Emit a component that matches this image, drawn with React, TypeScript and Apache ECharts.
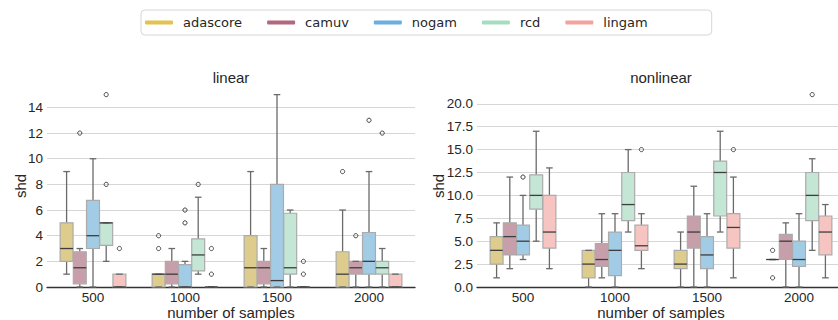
import React, { useEffect, useRef } from "react";
import * as echarts from "echarts";

const categories = ["500", "1000", "1500", "2000"];
const methods = ["adascore", "camuv", "nogam", "rcd", "lingam"];
const legendColors = ["#E3C24F", "#B0697F", "#6BAEE0", "#A3DEC0", "#F4A29C"];
const boxFills = ["#DDCC8C", "#C79FAA", "#A2CBE6", "#C4E6D5", "#F6C5C2"];

// stats per category: [min whisker, q1, median, q3, max whisker]
const adascoreLinear = [[1, 2, 3, 5, 9], [0, 0, 1, 1, 1], [0, 0, 1.5, 4, 9], [0, 0, 1, 2.75, 6]];
const camuvLinear = [[0, 0.25, 1.5, 2.75, 3], [0, 0.25, 1, 2, 3], [0, 0.25, 1.5, 2, 3], [0, 1, 1.5, 2, 2]];
const nogamLinear = [[0, 3, 4, 6.75, 10], [0, 0, 0, 1.75, 2], [0, 0, 0.5, 8, 15], [0, 1, 2, 4.25, 9]];
const rcdLinear = [[2, 3.25, 5, 5, 5], [1, 1.25, 2.5, 3.75, 7], [0, 1, 1.5, 5.75, 6], [0, 1, 1.5, 2, 3]];
const lingamLinear = [[0, 0, 0, 1, 1], [0, 0, 0, 0, 0], [0, 0, 0, 0, 0], [0, 0, 0, 1, 1]];

const adascoreNonlinear = [[1, 2.5, 4, 5.5, 7], [0, 1, 2.5, 4, 4], [0, 2, 2.5, 4, 6], [3, 3, 3, 3, 3]];
const camuvNonlinear = [[2, 3.5, 5.5, 7, 12], [1, 2.25, 3, 4.75, 8], [0, 4.25, 6, 7.75, 11], [0, 3, 5, 5.75, 7]];
const nogamNonlinear = [[3, 3.5, 5, 6.75, 10], [0, 1.25, 4, 6, 8], [0, 2, 3.5, 5.5, 8], [0, 2.25, 3, 5, 8]];
const rcdNonlinear = [[5, 8.5, 10, 12.25, 17], [6, 7.25, 9, 12.5, 15], [6, 7.75, 12.5, 13.75, 17], [4, 7.25, 10, 12.5, 14]];
const lingamNonlinear = [[2, 4.25, 6, 10, 13], [2, 4, 4.5, 6.75, 8], [1, 4.25, 6.5, 8, 12], [1, 3.5, 6, 7.75, 9]];

// outliers: [category index, value]
const adascoreLinearOut = [[1, 3], [1, 4], [3, 9]];
const camuvLinearOut = [[0, 12], [3, 4]];
const nogamLinearOut = [[1, 5], [1, 6], [3, 13]];
const rcdLinearOut = [[0, 8], [0, 15], [1, 8], [3, 12]];
const lingamLinearOut = [[0, 3], [1, 1], [1, 3], [2, 1], [2, 2]];

const adascoreNonlinearOut = [[3, 4], [3, 1]];
const camuvNonlinearOut: number[][] = [];
const nogamNonlinearOut = [[0, 12]];
const rcdNonlinearOut = [[3, 21]];
const lingamNonlinearOut = [[1, 15], [2, 15]];

const linearStats = [adascoreLinear, camuvLinear, nogamLinear, rcdLinear, lingamLinear];
const nonlinearStats = [adascoreNonlinear, camuvNonlinear, nogamNonlinear, rcdNonlinear, lingamNonlinear];
const linearOut = [adascoreLinearOut, camuvLinearOut, nogamLinearOut, rcdLinearOut, lingamLinearOut];
const nonlinearOut = [adascoreNonlinearOut, camuvNonlinearOut, nogamNonlinearOut, rcdNonlinearOut, lingamNonlinearOut];

const SLOT_FRAC = 0.1435;
const FONT = "Liberation Sans";
const TEXT = "#262626";

function boxSeries(k: number, stats: number[][], gridIdx: number) {
  return {
    type: "custom",
    name: methods[k],
    xAxisIndex: gridIdx,
    yAxisIndex: gridIdx,
    itemStyle: { color: legendColors[k] },
    encode: { x: 0, y: [1, 2, 3, 4, 5] },
    data: stats.map((s, i) => [i, ...s]),
    renderItem: (params: any, api: any) => {
      const cat = api.value(0);
      const mn = api.value(1), q1 = api.value(2), md = api.value(3), q3 = api.value(4), mx = api.value(5);
      const band = api.size([1, 0])[0];
      const slot = band * SLOT_FRAC;
      const cx = api.coord([cat, 0])[0] + (k - 2) * slot;
      const y = (v: number) => api.coord([cat, v])[1];
      const half = (slot * 0.98) / 2;
      const capHalf = slot / 4;
      const whisk = { stroke: "#6a6a6a", lineWidth: 1.3 };
      const children: any[] = [];
      if (mn < q1) children.push({ type: "line", shape: { x1: cx, y1: y(q1), x2: cx, y2: y(mn) }, style: whisk });
      if (mx > q3) children.push({ type: "line", shape: { x1: cx, y1: y(q3), x2: cx, y2: y(mx) }, style: whisk });
      children.push({
        type: "rect",
        shape: { x: cx - half, y: y(q3), width: half * 2, height: y(q1) - y(q3) },
        style: { fill: boxFills[k], stroke: "#ababab", lineWidth: 1.2 },
      });
      children.push({ type: "line", shape: { x1: cx - capHalf, y1: y(mn), x2: cx + capHalf, y2: y(mn) }, style: whisk });
      children.push({ type: "line", shape: { x1: cx - capHalf, y1: y(mx), x2: cx + capHalf, y2: y(mx) }, style: whisk });
      children.push({
        type: "line",
        shape: { x1: cx - half, y1: y(md), x2: cx + half, y2: y(md) },
        style: { stroke: "#3d3d3d", lineWidth: 1.3 },
      });
      return { type: "group", children };
    },
  };
}

function outlierSeries(k: number, pts: number[][], gridIdx: number) {
  return {
    type: "custom",
    name: methods[k],
    xAxisIndex: gridIdx,
    yAxisIndex: gridIdx,
    itemStyle: { color: legendColors[k] },
    encode: { x: 0, y: 1 },
    data: pts,
    renderItem: (params: any, api: any) => {
      const cat = api.value(0);
      const v = api.value(1);
      const band = api.size([1, 0])[0];
      const slot = band * SLOT_FRAC;
      const p = api.coord([cat, v]);
      return {
        type: "circle",
        shape: { cx: p[0] + (k - 2) * slot, cy: p[1], r: 2.1 },
        style: { fill: "none", stroke: "#444", lineWidth: 1 },
      };
    },
  };
}

function makeX(gridIndex: number) {
  return {
    type: "category",
    gridIndex,
    data: categories,
    name: "number of samples",
    nameLocation: "middle",
    nameGap: 18,
    nameMoveOverlap: false,
    nameTextStyle: { fontFamily: FONT, fontSize: 15, color: TEXT, lineHeight: 15 },
    axisTick: { show: false },
    axisLine: { show: true, lineStyle: { color: "#333", width: 1.3 } },
    axisLabel: { fontFamily: FONT, fontSize: 13.5, color: TEXT, margin: 3, lineHeight: 14 },
    splitLine: { show: false },
  };
}

function makeY(gridIndex: number, max: number, interval: number, decimals: number, gap: number) {
  return {
    type: "value",
    gridIndex,
    min: 0,
    max,
    interval,
    name: "shd",
    nameLocation: "middle",
    nameGap: gap,
    nameRotate: 90,
    nameMoveOverlap: false,
    nameTextStyle: { fontFamily: FONT, fontSize: 15, color: TEXT },
    axisLine: { show: false },
    axisTick: { show: false },
    axisLabel: {
      fontFamily: FONT,
      fontSize: 13.5,
      color: TEXT,
      margin: 4,
      showMaxLabel: false,
      formatter: (v: number) => v.toFixed(decimals),
    },
    splitLine: { show: true, showMaxLine: false, showMinLine: false, lineStyle: { color: "#d6d6d6", width: 1.2 } },
  };
}

export default function App() {
  const ref = useRef<HTMLDivElement>(null);
  useEffect(() => {
    if (!ref.current) return;
    const chart = echarts.init(ref.current, undefined, { renderer: "svg" });
    const series: any[] = [];
    methods.forEach((_, k) => {
      series.push(boxSeries(k, linearStats[k], 0));
      series.push(boxSeries(k, nonlinearStats[k], 1));
    });
    methods.forEach((_, k) => {
      series.push(outlierSeries(k, linearOut[k], 0));
      series.push(outlierSeries(k, nonlinearOut[k], 1));
    });
    chart.setOption({
      animation: false,
      backgroundColor: "#ffffff",
      legend: {
        data: methods.map((m, i) => ({ name: m, icon: "roundRect", itemStyle: { color: legendColors[i] } })),
        left: 141,
        top: 10,
        itemWidth: 28,
        itemHeight: 4,
        itemGap: 25,
        padding: [6, 64, 6, 4],
        borderColor: "#d6d6d6",
        borderWidth: 1,
        borderRadius: 4,
        selectedMode: false,
        textStyle: { fontFamily: "DejaVu Sans", fontSize: 13, color: TEXT, padding: [0, 0, 0, 5] },
      },
      graphic: [
        {
          type: "text",
          x: 231,
          y: 77,
          style: { text: "linear", fontFamily: FONT, fontSize: 15, fill: TEXT, textAlign: "center", textVerticalAlign: "middle" },
        },
        {
          type: "text",
          x: 661,
          y: 77,
          style: { text: "nonlinear", fontFamily: FONT, fontSize: 15, fill: TEXT, textAlign: "center", textVerticalAlign: "middle" },
        },
      ],
      grid: [
        { left: 47, top: 85, width: 368, height: 202, outerBoundsMode: "none", containLabel: false },
        { left: 477, top: 85, width: 368, height: 202, outerBoundsMode: "none", containLabel: false },
      ],
      xAxis: [makeX(0), makeX(1)],
      yAxis: [makeY(0, 15.75, 2, 0, 19), makeY(1, 22.05, 2.5, 1, 31)],
      series,
    });
    return () => chart.dispose();
  }, []);
  return <div ref={ref} style={{ width: 838, height: 320, position: "absolute", left: 0, top: 0 }} />;
}
